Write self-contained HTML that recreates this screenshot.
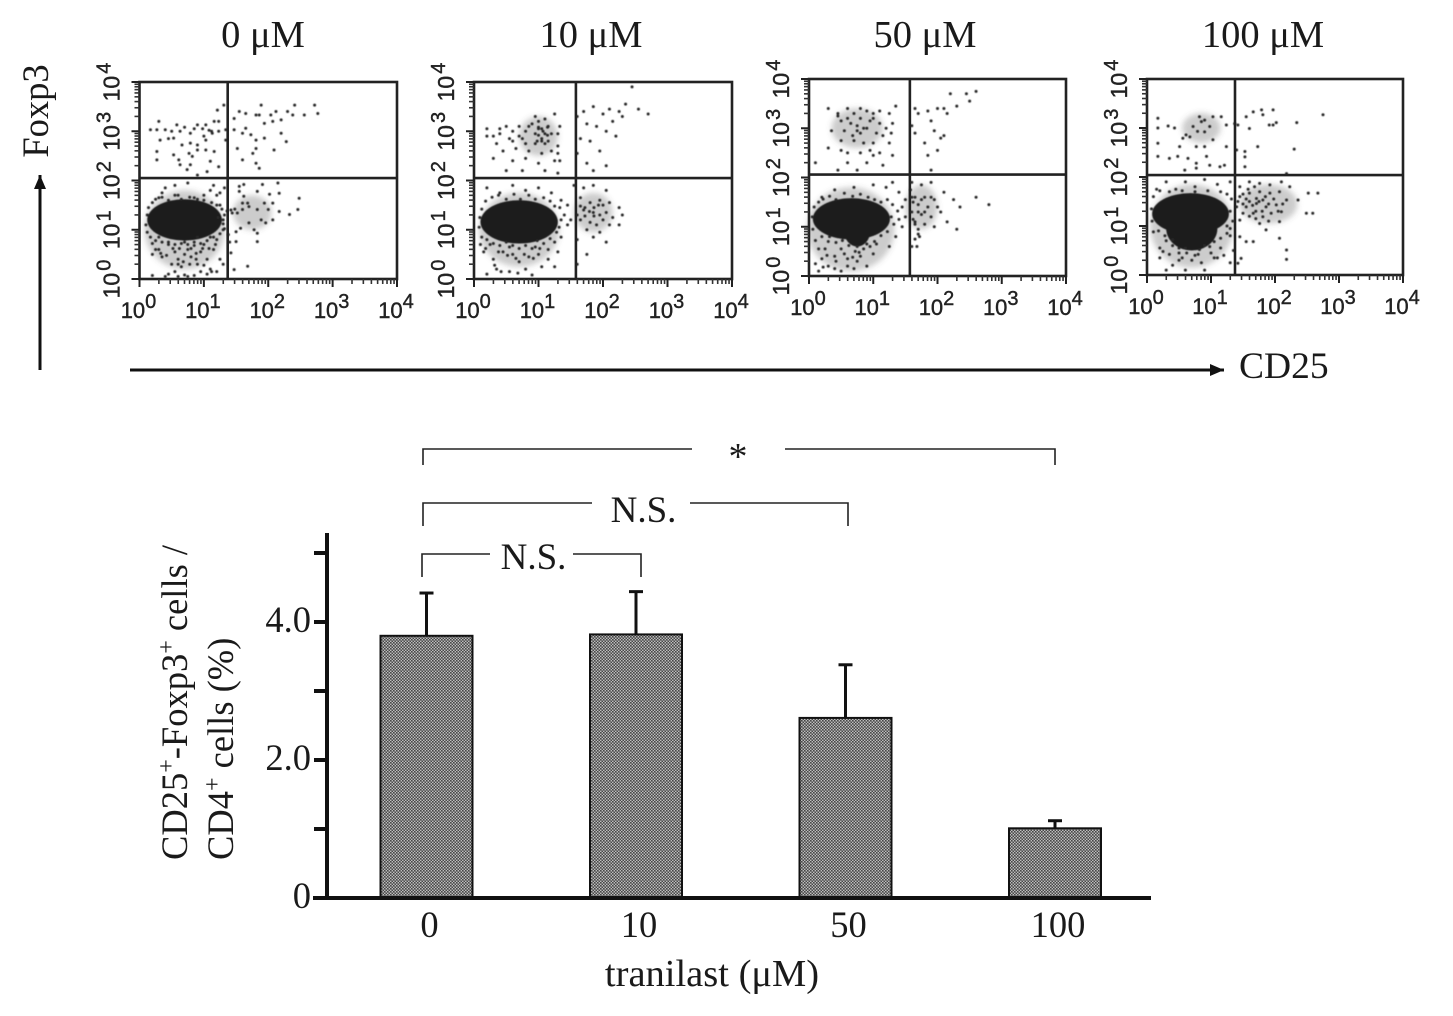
<!DOCTYPE html>
<html lang="en">
<head>
<meta charset="utf-8">
<title>Tranilast flow cytometry and CD25+Foxp3+ bar chart</title>
<style>
html,body{margin:0;padding:0;background:#fff;width:1453px;height:1016px;overflow:hidden}
svg{display:block}
.serif{font-family:"Liberation Serif","DejaVu Serif",serif;fill:#1a1a1a}
.sans{font-family:"Liberation Sans","DejaVu Sans",sans-serif;fill:#222;stroke:#222;stroke-width:.4}
</style>
</head>
<body>
<svg id="fig" xmlns="http://www.w3.org/2000/svg" width="1453" height="1016" viewBox="0 0 1453 1016">
  <defs>
    <pattern id="dither" width="3" height="3" patternUnits="userSpaceOnUse">
      <rect width="3" height="3" fill="#bdbdbd"></rect>
      <rect width="1.6" height="1.6" fill="#474747"></rect>
      <rect x="1.5" y="1.5" width="1.5" height="1.5" fill="#474747"></rect>
    </pattern>
    <filter id="soft" x="-5%" y="-5%" width="110%" height="110%">
      <feGaussianBlur stdDeviation="0.4"></feGaussianBlur>
    </filter>
    <filter id="softer" x="-20%" y="-20%" width="140%" height="140%">
      <feGaussianBlur stdDeviation="3"></feGaussianBlur>
    </filter>
    <marker id="arrow-head" markerUnits="userSpaceOnUse" markerWidth="16" markerHeight="14" refX="14" refY="6" orient="auto">
      <path d="M0,0 L14,6 L0,12 Z" fill="#111"></path>
    </marker>
  </defs>

  <g id="scatter-layer"></g>

  <g>
    <line x1="40" y1="370" x2="40" y2="175" stroke="#111" stroke-width="3" marker-end="url(#arrow-head)"></line>
    <line x1="130" y1="370" x2="1224" y2="370" stroke="#111" stroke-width="3" marker-end="url(#arrow-head)"></line>
    <text class="serif" transform="translate(48,111) rotate(-90)" text-anchor="middle" font-size="36.5">Foxp3</text>
    <text class="serif" x="1239" y="378" font-size="37.5">CD25</text>
  </g>

  <g fill="none" stroke="#222" stroke-width="1.6">
    <path d="M423,465 V449 H692 M785,449 H1055 V465"></path>
    <path d="M423,526 V503 H592 M690,503 H848 V526"></path>
    <path d="M422,577 V554 H490 M573,554 H641 V577"></path>
  </g>
  <text class="serif" x="738" y="469" text-anchor="middle" font-size="38">*</text>
  <text class="serif" x="643.5" y="522" text-anchor="middle" font-size="37">N.S.</text>
  <text class="serif" x="533.5" y="569" text-anchor="middle" font-size="37">N.S.</text>

  <g id="bar-layer"></g>

  <text class="serif" transform="translate(187,860) rotate(-90)" font-size="36.5">CD25<tspan dy="-13" font-size="24">+</tspan><tspan dy="13">-Foxp3</tspan><tspan dy="-13" font-size="24">+</tspan><tspan dy="13"> cells /</tspan></text>
  <text class="serif" transform="translate(233,860) rotate(-90)" font-size="36.5">CD4<tspan dy="-13" font-size="24">+</tspan><tspan dy="13"> cells (%)</tspan></text>
  <text class="serif" x="712" y="986" text-anchor="middle" font-size="38.5">tranilast (μM)</text>
</svg>

<script>
/* ---------- Flow cytometry data: every value is in log10 decades (0..4) ---------- */
const panelTitles = ['0 μM', '10 μM', '50 μM', '100 μM'];
const decadeTicks = [0, 1, 2, 3, 4];
const gateCD25 = [1.37, 1.58, 1.57, 1.375];
const gateFoxp3 = [2.05, 2.05, 2.06, 2.04];

const events0 = [
[.17,3.03],[.3,3.2],[.27,3.03],[.4,3.03],[.58,3.13],[.63,3],[.79,2.96],[.9,3.13],[1.03,3.13],[1.16,3.2],[1.23,3.2],[1.13,2.96],[1.23,3],[.53,2.86],[.32,2.82],[.66,2.72],[.79,2.76],[.9,2.72],[1.03,2.82],[1.34,2.82],[.27,2.59],[.53,2.52],[.77,2.55],[.9,2.62],[1.03,2.62],[1.16,2.59],[.27,2.42],[.61,2.42],[.82,2.49],[1.1,2.39],[1.23,2.28],[.63,2.32],[.79,2.32],[.74,2.22],[1.05,2.18],[.9,2.11],[1.31,3.53],[1.21,3.43],[1.34,3.03],[.98,3.05],[1.08,3.02],[1.12,3],[.7,3.08],[.85,3.05],[.5,3],[.45,2.85],[1,2.9],
[1.47,3.26],[1.55,3.4],[1.65,3.36],[1.81,3.33],[1.89,3.53],[1.86,3.33],[1.94,3.16],[2.04,3.33],[2.12,3.4],[2.3,3.4],[2.41,3.53],[2.38,3.33],[2.56,3.33],[2.72,3.53],[2.77,3.36],[2.07,3.2],[2.2,3.23],[1.65,3.06],[1.6,2.96],[1.73,2.93],[1.81,2.82],[1.94,2.86],[2.2,2.96],[2.28,2.79],[1.52,2.65],[1.81,2.65],[2.09,2.62],[1.6,2.42],[1.76,2.55],[1.81,2.35],[1.86,2.25],[1.47,3.03],
[1.55,1.88],[1.62,1.92],[1.55,1.78],[1.62,1.68],[1.91,1.92],[2.02,1.72],[2.15,1.95],[2.17,1.74],[1.83,1.78],[2.48,1.64],[1.6,1.54],[1.68,1.54],[1.94,1.54],[2.07,1.54],[2,1.41],[2.17,1.37],[2.33,1.31],[2.46,1.41],[1.83,1.41],[1.7,1.47],[1.52,1.34],[1.6,1.41],[1.44,1.34],[1.89,1.2],[2.07,1.2],[1.96,1.14],[1.7,1.14],[1.57,1.03],[1.78,1],[1.5,.96],[1.83,.76],[1.5,.76],[1.42,.53],[1.47,.19],[1.68,.26],[1.83,.93],
[.2,.72],[.3,.6],[.35,.45],[.2,.5],[.45,.7],[.55,.55],[.6,.4],[.5,.3],[.65,.25],[.75,.6],[.8,.45],[.9,.3],[.95,.55],[1,.7],[1.05,.4],[1.1,.2],[1.15,.6],[1.25,.4],[1.2,.8],[1.3,.3],[.85,.75],[.7,.75],[.2,.07],[.4,.05],[.6,.05],[.75,.05],[.85,.07],[.3,.85],[.9,.85],[1.1,.85],[1.3,1],[1.3,1.2],[1.25,1.5],[1.2,1.7],[1.1,1.8],[.85,1.65],[.4,1.85],[.35,1.75],[.55,1.9],[.75,1.95],[.6,1.7],[1.15,1.9],[1.25,1.75],[1.32,1.85],[1,1.7],[.3,1.65],[.95,.15],[.55,.15]
];
const fringe0 = [
[.1,1.1],[.12,1.3],[.14,1.45],[.2,1.55],[.25,1.62],[.35,1.66],[.45,1.6],[.55,1.7],[.65,1.62],[.78,1.66],[.9,1.62],[1,1.6],[1.12,1.55],[1.2,1.5],[1.28,1.42],[1.32,1.3],[1.36,1.38],[1.42,1.4],[1.48,1.42],[1.3,1.12],[1.32,1.02],[1.25,.92],[1.15,.85],[1.05,.78],[.95,.72],[.85,.68],[.75,.7],[.65,.72],[.55,.7],[.45,.75],[.35,.75],[.25,.78],[.17,.85],[.12,.95],
[.25,.6],[.33,.52],[.42,.48],[.52,.62],[.62,.62],[.7,.5],[.8,.62],[.88,.52],[.98,.62],[1.08,.62],[1.18,.7],[.6,.3],[.68,.35],[.78,.3],[.88,.4],[1,.28],[1.12,.15],[1.2,.15],[1.05,.1],[.45,.1],[.7,.08],[1.22,1.25],[1.38,.9],[1.4,.75]
];
const events10 = [
[.2,3.05],[.3,2.9],[.4,3.05],[.5,3.1],[.6,3],[.7,3.1],[.8,3],[.9,3.15],[1,3.2],[1.05,3.05],[1.1,2.95],[.95,2.95],[1.15,3.1],[1.2,2.95],[1,3.05],[.85,3.1],[.75,2.85],[.55,2.85],[.35,2.75],[.95,2.75],[1.05,2.8],[1.15,2.8],[1.3,2.7],[.65,2.65],[.45,2.6],[.85,2.6],[1.05,2.55],[1.2,2.6],[.3,2.45],[.6,2.4],[.8,2.45],[1,2.35],[1.25,2.4],[.5,2.2],[.75,2.2],[1.1,2.2],[1.3,2.15],[.95,3.3],[1.25,3.35],[1.1,3.25],
[1.6,3.3],[1.7,3.4],[1.85,3.5],[2,3.35],[2.1,3.45],[2.25,3.4],[2.35,3.55],[2.45,3.9],[2.55,3.45],[2.7,3.35],[2.3,3.3],[1.75,3.15],[1.9,3.1],[2.05,3],[2.2,2.9],[1.65,2.85],[1.8,2.8],[1.95,2.6],[1.6,2.55],[1.75,2.35],[2.05,2.3],[1.85,2.2],[2.15,3.2],
[1.55,1.9],[1.7,1.85],[1.85,1.9],[2.05,1.8],[1.65,1.65],[1.8,1.55],[1.95,1.6],[2.1,1.55],[2.25,1.45],[1.7,1.4],[1.85,1.35],[1.95,1.3],[2.05,1.35],[2.15,1.25],[2.3,1.3],[1.65,1.2],[1.8,1.15],[1.9,1.1],[2,1.2],[2.1,1.1],[2.25,1.1],[1.75,1],[1.95,.95],[1.85,.85],[1.6,.8],[2.05,.75],[1.75,.5],[1.6,.3],
[.15,.55],[.3,.4],[.45,.55],[.6,.5],[.7,.35],[.85,.45],[1,.5],[1.15,.4],[1.3,.55],[.35,.2],[.55,.15],[.8,.2],[1.05,.25],[1.25,.25],[.2,1.85],[.4,1.75],[.6,1.9],[.8,1.8],[1,1.85],[1.2,1.75],[1.35,1.6],[1.4,1.3],[1.45,1.1],[1.35,.85],[1.25,.75],[1.45,1.5],[1.5,1.2],[.55,.65],[.95,.65],[1.15,.6],[.25,.7]
];
const fringe10 = [
[1.07,3],[1,3.08],[1.14,2.92],[1,2.92],[1.14,3.08],[1.05,2.85],[1.1,2.75],[.98,2.8],[.7,2.9],[.8,2.75],[.6,2.8],[.4,2.95],[1.3,2.95],[1.33,3.1],[1.3,2.55],[1.33,2.4],[.2,2.9],
[1.79,1.37],[1.72,1.45],[1.86,1.45],[1.72,1.28],[1.86,1.28],[1.93,1.5],[2,1.5],[1.65,1.48],[1.6,1.3],
[.08,1.05],[.09,1.25],[.12,1.42],[.18,1.58],[.28,1.66],[.38,1.7],[.5,1.62],[.62,1.72],[.72,1.62],[.85,1.7],[.95,1.62],[1.08,1.65],[1.18,1.58],[1.25,1.48],[1.33,1.45],[1.35,1.2],[1.32,1.05],[1.28,.95],[1.18,.82],[1.08,.72],[.98,.78],[.9,.62],[.8,.68],[.7,.62],[.6,.68],[.5,.75],[.4,.68],[.3,.72],[.2,.8],[.12,.85],[.1,.7],[.18,.62],[.38,.55],[.52,.48],[.65,.42],[.78,.5],[.92,.42],[1.02,.62],[.32,.28],[.42,.15],[.68,.12],[.9,.08],[.2,.1]
];
const events50 = [
[.3,3.4],[.45,3.3],[.6,3.4],[.7,3.3],[.8,3.4],[.9,3.35],[1,3.3],[1.1,3.35],[1.25,3.3],[1.35,3.45],[.5,3.15],[.65,3.1],[.8,3.2],[.95,3.15],[1.1,3.1],[1.2,3],[.35,2.95],[.55,2.95],[.75,2.95],[.9,3],[1.05,2.9],[.7,2.75],[.85,2.7],[1,2.7],[1.25,2.7],[.3,2.6],[.5,2.55],[.8,2.5],[1.1,2.5],[1.3,2.45],[.6,2.3],[.9,2.3],[1.15,2.25],[.45,2.15],[.75,2.15],
[1.65,3.4],[1.85,3.35],[2,3.4],[2.2,3.7],[2.45,3.7],[2.6,3.75],[2.5,3.55],[2.3,3.45],[2.1,3.4],[1.7,3.3],[1.9,3.15],[1.6,3.05],[1.95,2.95],[2.05,2.8],[1.8,2.7],[2,2.55],[1.85,2.45],[1.65,2.9],[2.1,2.85],[2.15,3.3],[1.9,2.15],
[1.6,1.9],[1.75,1.85],[1.9,1.9],[2.1,1.7],[1.65,1.6],[1.8,1.6],[1.95,1.55],[1.7,1.45],[1.85,1.4],[2,1.4],[1.6,1.3],[1.75,1.25],[1.9,1.2],[2.05,1.3],[2.25,1.55],[2.35,1.4],[2.6,1.6],[2.8,1.45],[1.65,1.1],[1.8,1.05],[1.95,1],[2.15,1.1],[1.7,.85],[2.3,.95],[1.9,1.6],[1.58,1.75],[1.6,.6],
[.15,.1],[.3,.2],[.5,.1],[.7,.15],[.9,.2],[.2,.35],[.4,.4],[.6,.35],[.8,.4],[1,.45],[.25,.55],[.5,.55],[.75,.6],[1.05,.65],[1.25,.6],[.3,.7],[.9,.65],[.6,.2],[.75,.3],[1.35,.8],[1.45,1],[1.5,1.2],[1.45,1.4],[1.5,1.55],[1.4,1.7],[1.2,1.8],[1,1.85],[.7,1.8],[.4,1.75],[.2,1.6],[1.3,1.9]
];
const fringe50 = [
[.75,3.05],[.8,2.9],[.68,2.85],[.85,3],[.6,3.2],[.45,3.25],[1,3.2],[1.15,2.85],[.6,2.5],[.95,2.55],[.5,2.75],[1.3,3.1],[1.28,2.9],[1,2.45],[.1,2.3],
[1.62,1.5],[1.7,1.3],[1.75,1.55],[1.8,1.3],[1.6,1.6],[1.62,1.15],[1.65,1.05],[1.7,.95],[1.72,.8],[1.65,.75],[1.68,.6],
[.06,.95],[.05,1.2],[.08,1.4],[.15,1.5],[.22,1.56],[.32,1.62],[.42,1.55],[.55,1.68],[.68,1.62],[.8,1.66],[.92,1.6],[1.02,1.55],[1.12,1.5],[1.22,1.55],[1.3,1.45],[1.38,1.32],[1.28,1.2],[1.4,1.15],[1.32,1.05],[1.22,.9],[1.12,.82],[1.02,.7],[.95,.6],[.85,.55],[.78,.48],[.62,.62],[.52,.72],[.42,.68],[.32,.8],[.2,.8],[.1,.72],[.15,.55],[.28,.42],[.42,.3],[.55,.45],[.68,.38],[.72,.5],[.1,.25],[.22,.18],[.4,.15]
];
const events100 = [
[.17,3.2],[.17,3],[.33,3.04],[.43,3],[.56,2.79],[.61,2.86],[.72,3.03],[.82,3.23],[.9,3.16],[.9,2.92],[.98,3.03],[1.03,3.23],[1.16,3.23],[1.24,3.06],[.51,2.62],[.77,2.62],[.9,2.62],[1.03,2.76],[.17,2.69],[.17,2.42],[.35,2.38],[.48,2.42],[.64,2.38],[.77,2.28],[.93,2.42],[1.24,2.62],[.59,2.14],[.77,2.18],[.98,2.24],[1.21,2.24],[1.14,2.21],[.85,3.13],[.79,2.93],[.67,2.82],
[1.42,3.06],[1.55,3.23],[1.66,3.33],[1.79,3.37],[1.97,3.37],[1.81,3.27],[1.6,2.99],[1.91,3.06],[1.97,3.06],[2.02,3.11],[2.34,3.11],[2.75,3.27],[1.73,2.62],[2.3,2.57],[1.4,2.55],[1.53,2.52],[1.53,2.41],[1.53,2.21],[1.37,3.09],
[1.45,1.8],[1.6,1.9],[1.76,1.87],[1.92,1.84],[2.1,1.9],[2.18,2.07],[1.45,1.6],[1.6,1.67],[1.76,1.7],[1.92,1.67],[2.07,1.7],[2.23,1.8],[2.36,1.53],[2.52,1.67],[2.67,1.67],[2.49,1.26],[2.59,1.26],[2.18,1.53],[2.02,1.43],[1.86,1.39],[1.71,1.46],[1.55,1.39],[1.4,1.39],[1.5,1.26],[1.66,1.26],[1.81,1.19],[1.94,1.26],[2.1,1.29],[1.76,1.05],[1.86,.92],[2.07,1.09],[2.07,.75],[2.18,.51],[2.18,.32],[1.45,.78],[1.55,.68],[1.66,.68],[1.47,.34],[1.42,.24],[1.71,1.56],[1.6,1.5],[1.81,1.53],[1.45,1.12],
[.2,.55],[.3,.7],[.4,.6],[.5,.45],[.6,.55],[.75,.4],[.9,.6],[1,.45],[1.15,.55],[1.3,.8],[.2,.35],[.3,.1],[.4,.2],[.5,.3],[.6,.1],[.85,.25],[.9,.1],[1.1,.35],[1.3,.25],[1.35,.5],[1.25,1],[1.3,1.3],[.15,1.75],[.3,1.9],[.45,1.75],[.6,1.9],[.75,1.8],[.9,1.95],[1.1,1.85],[1.3,1.9],[1.25,1.65]
];
const fringe100 = [
[1.5,1.65],[1.55,1.55],[1.65,1.42],[1.7,1.3],[1.75,1.5],[1.85,1.6],[1.9,1.45],[1.98,1.55],[2.05,1.3],[1.6,1.2],[1.7,1.15],[1.5,1.45],[1.58,1.75],[1.68,1.8],[1.8,1.3],[2.12,1.45],[1.42,1.5],[1.9,1.1],
[.08,1.1],[.07,1.35],[.1,1.6],[.2,1.72],[.35,1.7],[.55,1.72],[.75,1.7],[.95,1.72],[1.15,1.7],[1.32,1.55],[1.34,1.1],[1.3,.95],[1.25,.85],[1.15,.75],[1.05,.68],[.98,.58],[.82,.52],[.62,.45],[.5,.55],[.4,.72],[.28,.8],[.18,.9],[.1,.88],[.25,.48],[.35,.42],[.55,.35],[.7,.3],[.8,.42],[1.05,.35],[1.2,.4]
];

/* Saturated event clouds: centre and half-spread in decades */
const cloud0 = [[.7,1.2,.58,.42]];
const cloud10 = [[.7,1.16,.6,.44]];
const cloud50 = [[.66,1.16,.6,.42],[.75,.9,.2,.3]];
const cloud100 = [[.68,1.25,.6,.42],[.7,.95,.4,.45]];

/* Moderately populated event regions: centre and half-spread in decades */
const haze0 = [[.7,1,.62,.8],[1.75,1.35,.3,.35]];
const haze10 = [[.7,1,.62,.75],[1.85,1.35,.3,.4],[1,2.9,.3,.4]];
const haze50 = [[.65,.95,.68,.85],[1.75,1.4,.25,.45],[.75,3,.4,.4]];
const haze100 = [[.7,1,.65,.85],[1.9,1.45,.45,.4],[.85,3,.3,.3]];

/* ---------- Bar chart data ---------- */
const doseCategories = ['0', '10', '50', '100'];
const meanValues = [3.80, 3.82, 2.61, 1.01];
const errorTops = [4.42, 4.44, 3.38, 1.12];
const yTickValues = [0, 1, 2, 3, 4, 5];
const yTickLabels = ['0', '', '2.0', '', '4.0', ''];

const NS = 'http://www.w3.org/2000/svg';
function mk(tag, attrs, parent) {
  const el = document.createElementNS(NS, tag);
  for (const k in attrs) el.setAttribute(k, attrs[k]);
  parent.appendChild(el);
  return el;
}

function drawPanel(index, events, clouds, hazes, box) {
  const layer = document.getElementById('scatter-layer');
  const sx = d => box.left + (box.right - box.left) * d / 4;
  const sy = d => box.bottom - (box.bottom - box.top) * d / 4;
  const g = mk('g', {}, layer);
  
  

  const title = mk('text', {class: 'serif', x: box.titleX, y: 47, 'text-anchor': 'middle', 'font-size': 38.5}, g);
  title.textContent = panelTitles[index];
  
  

  const hazeGroup = mk('g', {filter: 'url(#softer)'}, g);
  
  
  hazes.forEach(c => {
    const patch = mk('ellipse', {cx: sx(c[0]), cy: sy(c[1]), rx: sx(c[2]) - sx(0), ry: sy(0) - sy(c[3]), fill: '#555', 'fill-opacity': .3}, hazeGroup);
    
    
  });

  const marks = mk('g', {filter: 'url(#soft)'}, g);
  
  

  clouds.forEach(c => {
    const blob = mk('ellipse', {cx: sx(c[0]), cy: sy(c[1]), rx: sx(c[2]) - sx(0), ry: sy(0) - sy(c[3]), fill: '#1f1f1f'}, marks);
    
    
  });

  events.forEach(p => {
    const dot = mk('circle', {cx: sx(p[0]), cy: sy(p[1]), r: 1.5, fill: '#262626'}, marks);
    
    
  });

  const frame = mk('rect', {x: box.left, y: box.top, width: box.right - box.left, height: box.bottom - box.top, fill: 'none', stroke: '#222', 'stroke-width': 2.6}, g);
  
  

  const gv = mk('line', {x1: sx(gateCD25[index]), x2: sx(gateCD25[index]), y1: box.top, y2: box.bottom, stroke: '#222', 'stroke-width': 2.6}, g);
  
  
  const gh = mk('line', {x1: box.left, x2: box.right, y1: sy(gateFoxp3[index]), y2: sy(gateFoxp3[index]), stroke: '#222', 'stroke-width': 2.6}, g);
  
  

  decadeTicks.forEach(d => {
    const tx = mk('line', {x1: sx(d), x2: sx(d), y1: box.bottom, y2: box.bottom + 8, stroke: '#222', 'stroke-width': 2}, g);
    
    
    const ty = mk('line', {y1: sy(d), y2: sy(d), x1: box.left, x2: box.left - 8, stroke: '#222', 'stroke-width': 2}, g);
    
    

    if (d < 4) {
      [2, 3, 4, 5, 6, 7, 8, 9].forEach(m => {
        const off = d + Math.log10(m);
        const mx = mk('line', {x1: sx(off), x2: sx(off), y1: box.bottom, y2: box.bottom + 5, stroke: '#333', 'stroke-width': 1.6}, g);
        
        
        const my = mk('line', {y1: sy(off), y2: sy(off), x1: box.left, x2: box.left - 5, stroke: '#333', 'stroke-width': 1.6}, g);
        
        
      });
    }

    const xl = mk('text', {class: 'sans', x: sx(d) - 1, y: box.bottom + 39, 'text-anchor': 'middle', 'font-size': 22}, g);
    
    
    xl.appendChild(document.createTextNode('10'));
    mk('tspan', {dy: -10, 'font-size': 20}, xl).textContent = String(d);

    const yl = mk('text', {class: 'sans', transform: 'translate(' + (box.left - 20) + ',' + sy(d) + ') rotate(-90)', 'text-anchor': 'middle', 'font-size': 23}, g);
    
    
    yl.appendChild(document.createTextNode('10'));
    mk('tspan', {dy: -9, dx: 2, 'font-size': 20}, yl).textContent = String(d);
  });
}

drawPanel(0, events0.concat(fringe0), cloud0, haze0, {left: 139.5, right: 397, top: 82, bottom: 279, titleX: 263});
drawPanel(1, events10.concat(fringe10), cloud10, haze10, {left: 474, right: 732, top: 82, bottom: 279, titleX: 591});
drawPanel(2, events50.concat(fringe50), cloud50, haze50, {left: 809, right: 1066, top: 79, bottom: 276, titleX: 925});
drawPanel(3, events100.concat(fringe100), cloud100, haze100, {left: 1147, right: 1403, top: 79, bottom: 275, titleX: 1263});

/* ---------- Bar chart ---------- */
(function () {
  const layer = document.getElementById('bar-layer');
  const yScale = v => 898 - v * 69;
  const xScale = i => 426.5 + i * 209.5;
  const barWidth = 92;

  meanValues.forEach((v, i) => {
    const cx = xScale(i);
    const stem = mk('line', {x1: cx, x2: cx, y1: yScale(errorTops[i]), y2: yScale(v), stroke: '#111', 'stroke-width': 3}, layer);
    
    
    const cap = mk('line', {x1: cx - 7, x2: cx + 7, y1: yScale(errorTops[i]), y2: yScale(errorTops[i]), stroke: '#111', 'stroke-width': 3}, layer);
    
    
    const bar = mk('rect', {x: cx - barWidth / 2, y: yScale(v), width: barWidth, height: yScale(0) - yScale(v), fill: 'url(#dither)', stroke: '#111', 'stroke-width': 2}, layer);
    
    
    const label = mk('text', {class: 'serif', x: cx + 3, y: 937, 'text-anchor': 'middle', 'font-size': 36.5}, layer);
    label.textContent = doseCategories[i];
    
    
  });

  const yAxis = mk('line', {x1: 327, x2: 327, y1: 533, y2: 900, stroke: '#111', 'stroke-width': 4}, layer);
  
  
  const xAxis = mk('line', {x1: 313, x2: 1151, y1: yScale(0), y2: yScale(0), stroke: '#111', 'stroke-width': 4}, layer);
  
  

  yTickValues.forEach((v, i) => {
    const tick = mk('line', {x1: 314, x2: 327, y1: yScale(v), y2: yScale(v), stroke: '#111', 'stroke-width': 4}, layer);
    
    
    if (yTickLabels[i]) {
      const label = mk('text', {class: 'serif', x: 311, y: yScale(v) + 10, 'text-anchor': 'end', 'font-size': 36.5}, layer);
      label.textContent = yTickLabels[i];
      
      
    }
  });
})();
</script>
</body>
</html>
